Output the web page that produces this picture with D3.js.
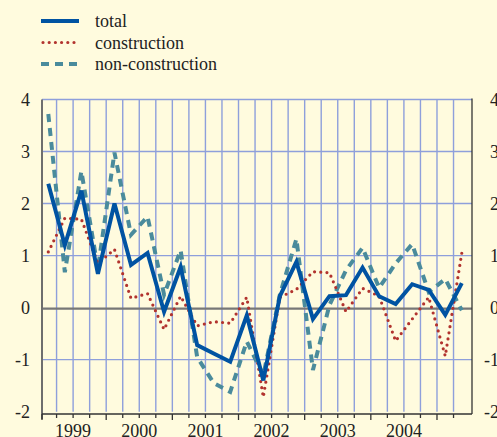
<!DOCTYPE html>
<html>
<head>
<meta charset="utf-8">
<script src="https://cdn.jsdelivr.net/npm/d3@7"></script>
<style>
	body { margin: 0; background: #fffbde; }
	svg { display: block; }
</style>
</head>
<body>
<svg id="chart" width="497" height="437"></svg>
<script>
/* quarterly values, 1999 Q1 onwards */
var total = [2.38, 1.2, 2.25, 0.65, 2.0, 0.82, 1.05, -0.08, 0.78, -0.72, -0.88, -1.04, -0.15,
	-1.4, 0.22, 0.88, -0.22, 0.22, 0.24, 0.77, 0.22, 0.07, 0.45, 0.34, -0.14, 0.47];
var construction = [1.07, 1.72, 1.7, 0.85, 1.12, 0.18, 0.27, -0.42, 0.22, -0.35, -0.27, -0.3, 0.2,
	-1.72, 0.2, 0.35, 0.69, 0.67, -0.08, 0.37, 0.22, -0.64, -0.22, 0.2, -0.93, 1.05];
var nonConstruction = [3.72, 0.68, 2.62, 0.75, 2.98, 1.4, 1.75, 0.25, 1.1, -0.95, -1.45, -1.62, -0.65,
	-1.3, 0.25, 1.32, -1.2, 0.05, 0.72, 1.15, 0.38, 0.85, 1.22, 0.3, 0.55, -0.05];
var years = ["1999", "2000", "2001", "2002", "2003", "2004"];
var yTicks = [-2, -1, 0, 1, 2, 3, 4];
var seriesNames = ["total", "construction", "non-construction"];

var svg = d3.select("#chart")
	.attr("font-family", "'Liberation Serif', 'DejaVu Serif', serif");

var plotLeft = 42, plotRight = 472, plotTop = 99.5, plotBottom = 411.7;

// x runs over quarter index, y over percent
var x = d3.scaleLinear().domain([0, 25]).range([48.3, 461.8]);
var y = d3.scaleLinear().domain([-2, 4]).range([plotBottom, plotTop]);

var gridColor = "#8e9fdb";

// vertical grid at every quarter boundary
svg.append("g")
	.selectAll("line")
	.data(d3.range(25))
	.enter().append("line")
	.attr("x1", function(d) { return x(d + 0.5); })
	.attr("x2", function(d) { return x(d + 0.5); })
	.attr("y1", plotTop)
	.attr("y2", plotBottom)
	.style("stroke", gridColor)
	.style("stroke-width", 1.4);

// horizontal grid
svg.append("g")
	.selectAll("line")
	.data(yTicks.filter(function(d) { return d != 0 && d != -2; }))
	.enter().append("line")
	.attr("x1", plotLeft)
	.attr("x2", plotRight)
	.attr("y1", function(d) { return y(d); })
	.attr("y2", function(d) { return y(d); })
	.style("stroke", gridColor)
	.style("stroke-width", 1.4);

// zero line
svg.append("line")
	.attr("x1", plotLeft).attr("x2", plotRight)
	.attr("y1", y(0) + 1).attr("y2", y(0) + 1)
	.style("stroke", "#777")
	.style("stroke-width", 2.2);

// left and right frame
svg.append("line")
	.attr("x1", plotLeft).attr("x2", plotLeft)
	.attr("y1", plotTop).attr("y2", 419)
	.style("stroke", "#6e6e6e").style("stroke-width", 2);
svg.append("line")
	.attr("x1", plotRight).attr("x2", plotRight)
	.attr("y1", plotTop - 1).attr("y2", 414)
	.style("stroke", "#333").style("stroke-width", 1.3);

// bottom axis with step ticks, deeper ones at year boundaries
svg.append("line")
	.attr("x1", plotLeft).attr("x2", plotRight)
	.attr("y1", 414).attr("y2", 414)
	.style("stroke", "#333").style("stroke-width", 1.3);
svg.append("g")
	.selectAll("line")
	.data(d3.range(-1, 25))
	.enter().append("line")
	.attr("x1", function(d) { return d < 0 ? plotLeft : x(d + 0.5); })
	.attr("x2", function(d) { return d < 0 ? plotLeft : x(d + 0.5); })
	.attr("y1", 414)
	.attr("y2", function(d) { return (d + 1) % 4 == 0 ? 420 : 418; })
	.style("stroke", "#333")
	.style("stroke-width", 1.3);

// year labels centred under their four quarters
svg.append("g")
	.selectAll("text")
	.data(years)
	.enter().append("text")
	.attr("x", function(d, i) { return x(i * 4 + 1.5); })
	.attr("y", 437)
	.attr("text-anchor", "middle")
	.style("font-size", "18px")
	.style("fill", "#222")
	.text(function(d) { return d; });

// y labels, both sides
["left", "right"].forEach(function(side) {
	svg.append("g")
		.selectAll("text")
		.data(yTicks)
		.enter().append("text")
		.attr("x", side == "left" ? 30 : 499)
		.attr("y", function(d) { return y(d) + 6; })
		.attr("text-anchor", "end")
		.style("font-size", "18px")
		.style("fill", "#222")
		.text(function(d) { return d; });
});

// series lines
var line = d3.line()
	.x(function(d, i) { return x(i); })
	.y(function(d) { return y(d); });

var styles = [
	{ data: nonConstruction, color: "#4a8b9c", width: 4, dash: "8,6", cap: "butt" },
	{ data: construction, color: "#b2332e", width: 3.2, dash: "0,6.2", cap: "round" },
	{ data: total, color: "#0053a2", width: 4, dash: null, cap: "butt" }
];

styles.forEach(function(s) {
	svg.append("path")
		.datum(s.data)
		.attr("d", line)
		.style("fill", "none")
		.style("stroke", s.color)
		.style("stroke-width", s.width)
		.style("stroke-dasharray", s.dash)
		.style("stroke-linecap", s.cap)
		.style("stroke-linejoin", "miter");
});

// legend, same order as in the source: total, construction, non-construction
var legendStyles = [styles[2], styles[1], styles[0]];
var legend = svg.append("g");
seriesNames.forEach(function(name, i) {
	var ly = 21 + i * 21.5;
	legend.append("line")
		.attr("x1", i == 1 ? 43 : 41).attr("x2", 79)
		.attr("y1", ly).attr("y2", ly)
		.style("stroke", legendStyles[i].color)
		.style("stroke-width", legendStyles[i].width)
		.style("stroke-dasharray", legendStyles[i].dash)
		.style("stroke-linecap", legendStyles[i].cap);
	legend.append("text")
		.attr("x", 95)
		.attr("y", ly + 6)
		.style("font-size", "18px")
		.style("fill", "#222")
		.text(name);
});
</script>
</body>
</html>
